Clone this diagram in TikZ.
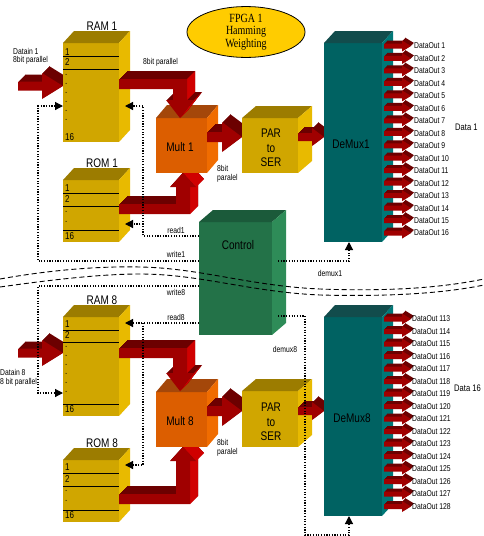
\documentclass[tikz,border=0pt]{standalone}
\usepackage{fontspec}
\setmainfont{Liberation Sans}[FakeStretch=0.8]
\newfontfamily\serifst{Liberation Serif}[FakeStretch=0.8]
\usetikzlibrary{shapes.geometric,arrows.meta,calc}
\definecolor{goldF}{HTML}{D0A600}
\definecolor{goldT}{HTML}{9C7C00}
\definecolor{goldS}{HTML}{E8BA00}
\definecolor{multF}{HTML}{DC5E00}
\definecolor{multT}{HTML}{A4470A}
\definecolor{multS}{HTML}{F06C00}
\definecolor{ctlF}{HTML}{237248}
\definecolor{ctlT}{HTML}{1B5A3A}
\definecolor{ctlS}{HTML}{2E8C58}
\definecolor{dmF}{HTML}{006262}
\definecolor{dmT}{HTML}{124C4C}
\definecolor{dmS}{HTML}{007878}
\definecolor{arrF}{HTML}{A00000}
\definecolor{arrT}{HTML}{6C0000}
\definecolor{arrS}{HTML}{D00000}
\definecolor{fpga}{HTML}{FFCC00}
\newcommand\lblf{\fontsize{8.5}{9.5}\selectfont}
\newcommand\bxf{\fontsize{12.5}{14.5}\selectfont}
\newcommand\numf{\fontsize{10}{11}\selectfont}
% top and side faces of a box node
\newcommand\cubeface[4]{%
 \fill[#4T] (#1.north west) -- ++(#2,-#3) -- ($(#1.north east)+(#2,-#3)$) -- (#1.north east) -- cycle;
 \fill[#4S] (#1.north east) -- ++(#2,-#3) -- ($(#1.south east)+(#2,-#3)$) -- (#1.south east) -- cycle;}
% straight 3D arrow pointing right: x0, xtip, yc, half shaft, head length, half head, depth
\newcommand\rarr[7]{%
 \foreach \k in {1,...,#7} {\fill[arrT, shift={(\k,-\k)}] (#1,#3-#4) -- (#2-#5,#3-#4) -- (#2-#5,#3-#6) -- (#2,#3) -- (#2-#5,#3+#6) -- (#2-#5,#3+#4) -- (#1,#3+#4) -- cycle;}
 \fill[arrF] (#1,#3-#4) -- (#2-#5,#3-#4) -- (#2-#5,#3-#6) -- (#2,#3) -- (#2-#5,#3+#6) -- (#2-#5,#3+#4) -- (#1,#3+#4) -- cycle;}
\newcommand\larrext[2]{\foreach \k in {1,...,#2} {\fill[arrT, shift={(\k,-\k)}] #1;}}
\begin{document}
\begin{tikzpicture}[x=1pt,y=-1pt,
  box/.style={inner sep=0pt, outer sep=0pt, anchor=north west, draw=none},
  numt/.style={anchor=west, inner sep=0pt, font=\numf},
  rline/.style={line width=1pt, black},
  lblw/.style={anchor=west, inner sep=0pt, font=\lblf, align=left},
  lblc/.style={inner sep=0pt, font=\lblf},
  boxt/.style={inner sep=0pt, font=\bxf, align=center},
  dotl/.style={black, line width=1.2pt, dash pattern=on 1.2pt off 1.5pt},
  tip/.style={-{Triangle[length=8pt,width=8pt]}},
  wave/.style={black, line width=0.9pt, dash pattern=on 5pt off 3pt}]
\useasboundingbox (0,0) rectangle (484,536);

% Datain arrows
\rarr{18}{63}{86}{4.5}{21}{13}{7}
\rarr{18}{63}{353}{4.5}{21}{13}{7}

% RAM / ROM boxes
\node[box, fill=goldF, minimum width=56, minimum height=99] (ram1) at (63,43) {};
\cubeface{ram1}{11}{12}{gold}
\node[box, fill=goldF, minimum width=56, minimum height=62] (rom1) at (63,180) {};
\cubeface{rom1}{11}{12}{gold}
\node[box, fill=goldF, minimum width=56, minimum height=99] (ram8) at (63,317) {};
\cubeface{ram8}{11}{12}{gold}
\node[box, fill=goldF, minimum width=56, minimum height=62] (rom8) at (63,460) {};
\cubeface{rom8}{11}{12}{gold}

% RAM / ROM contents
\foreach \yy in {56,69} \draw[rline] (63,\yy) -- (119,\yy);
\node[numt] at (65,52) {1}; \node[numt] at (65,62) {2}; \node[numt] at (65,137) {16};
\foreach \yy in {75,84,93,102,111,120} \node[numt] at (65,\yy) {.};
\foreach \yy in {193,206,230} \draw[rline] (63,\yy) -- (119,\yy);
\node[numt] at (65,188) {1}; \node[numt] at (65,199) {2}; \node[numt] at (65,236) {16};
\foreach \yy in {212,221.5} \node[numt] at (65,\yy) {.};
\foreach \yy in {330,342,404} \draw[rline] (63,\yy) -- (119,\yy);
\node[numt] at (65,324) {1}; \node[numt] at (65,335) {2}; \node[numt] at (65,409) {16};
\foreach \yy in {347,356,365,374,383,392} \node[numt] at (65,\yy) {.};
\foreach \yy in {473,486,510} \draw[rline] (63,\yy) -- (119,\yy);
\node[numt] at (65,467) {1}; \node[numt] at (65,479) {2}; \node[numt] at (65,515) {16};
\foreach \yy in {491,500.5} \node[numt] at (65,\yy) {.};

% ROM -> Mult arrows (behind Mult)
\def\pROone{(119,204)--(176,204)--(176,187)--(170,187)--(183,173)--(196,187)--(190,187)--(190,214)--(119,214)--cycle}
\larrext{\pROone}{8}
\fill[arrS] (190,214)--(190,187)--(198,179)--(198,206)--cycle;
\fill[arrS] (196,187)--(183,173)--(191,165)--(204,179)--cycle;
\fill[arrF] \pROone;
\def\pROeight{(119,494)--(176,494)--(176,461)--(170,461)--(183,447)--(196,461)--(190,461)--(190,504)--(119,504)--cycle}
\larrext{\pROeight}{8}
\fill[arrS] (190,504)--(190,461)--(198,453)--(198,496)--cycle;
\fill[arrS] (196,461)--(183,447)--(191,439)--(204,453)--cycle;
\fill[arrF] \pROeight;

% Mult boxes
\node[box, fill=multF, minimum width=51, minimum height=55] (mult1) at (156,118) {};
\cubeface{mult1}{11}{13}{mult}
\node[boxt] at (180,147) {Mult 1};
\node[box, fill=multF, minimum width=51, minimum height=55] (mult8) at (156,392) {};
\cubeface{mult8}{11}{13}{mult}
\node[boxt] at (180,421) {Mult 8};

% RAM -> Mult arrows (over Mult top)
\def\pRAone{(119,79)--(187,79)--(187,100)--(194,100)--(180,118)--(166,100)--(173,100)--(173,89)--(119,89)--cycle}
\larrext{\pRAone}{8}
\fill[arrS] (187,79)--(187,100)--(195,92)--(195,71)--cycle;
\fill[arrS] (194,100)--(180,118)--(188,110)--(202,92)--cycle;
\fill[arrF] \pRAone;
\def\pRAeight{(119,348)--(187,348)--(187,373)--(194,373)--(180,391)--(166,373)--(173,373)--(173,358)--(119,358)--cycle}
\larrext{\pRAeight}{8}
\fill[arrS] (187,348)--(187,373)--(195,365)--(195,340)--cycle;
\fill[arrS] (194,373)--(180,391)--(188,383)--(202,365)--cycle;
\fill[arrF] \pRAeight;

% Mult -> PAR arrows
\rarr{207}{242}{137}{5}{20}{15}{8}
\rarr{207}{242}{411}{5}{20}{15}{8}

% PAR boxes
\node[box, fill=goldF, minimum width=56, minimum height=55] (par1) at (242,118) {};
\cubeface{par1}{14}{12}{gold}
\node[boxt] at (271,148) {PAR\\to\\SER};
\node[box, fill=goldF, minimum width=56, minimum height=56] (par8) at (242,391) {};
\cubeface{par8}{14}{12}{gold}
\node[boxt] at (271,422) {PAR\\to\\SER};

% PAR -> DeMux arrows
\rarr{298}{324}{137}{4}{12}{9}{6}
\rarr{298}{324}{411}{4}{12}{9}{6}

% DeMux boxes
\node[box, fill=dmF, minimum width=58, minimum height=199] (dm1) at (324,43) {};
\cubeface{dm1}{11}{12}{dm}
\node[boxt] at (351,144) {DeMux1};
\node[box, fill=dmF, minimum width=58, minimum height=199] (dm8) at (324,317) {};
\cubeface{dm8}{11}{12}{dm}
\node[boxt] at (352,418) {DeMux8};

% outputs
\foreach \i [count=\n from 1] in {0,...,15} {
  \pgfmathsetmacro\yc{46+12.47*\i}
  \rarr{384}{411}{\yc}{2.5}{9}{5.5}{3}
  \node[lblw] at (414,\yc) {DataOut \n};
}
\foreach \i in {0,...,15} {
  \pgfmathsetmacro\yc{319+12.5*\i}
  \pgfmathtruncatemacro\nn{113+\i}
  \rarr{384}{411}{\yc}{2.5}{9}{5.5}{3}
  \node[lblw] at (412,\yc) {DataOut \nn};
}
\node[anchor=west, inner sep=0pt, font=\fontsize{9.5}{11}\selectfont] (d1) at (455,127) {Data 1};
\node[anchor=west, inner sep=0pt, font=\fontsize{9.5}{11}\selectfont] (d16) at (454,388) {Data 16};

% Control
\node[box, fill=ctlF, minimum width=73, minimum height=113] (ctrl) at (199,222) {};
\cubeface{ctrl}{14}{12}{ctl}
\node[boxt] at (238,245) {Control};

% wavy dashed separators
\draw[wave] (0,279) .. controls (50,270) and (100,266) .. (140,267) .. controls (200,268) and (250,286) .. (320,289) .. controls (400,292) and (450,286) .. (484,279);
\draw[wave] (0,287) .. controls (50,280) and (100,274) .. (140,274) .. controls (200,274) and (250,292) .. (320,295) .. controls (400,297) and (450,292) .. (484,285);

% FPGA ellipse
\node[ellipse, draw=black, line width=0.8pt, fill=fpga, minimum width=118, minimum height=47, inner sep=0pt,
      font=\serifst\fontsize{12.5}{12.5}\selectfont, align=center] (fpga) at (246,32) {FPGA 1\\Hamming\\Weighting};

% box titles
\node[boxt] at (102,26) {RAM 1};
\node[boxt] at (102,163) {ROM 1};
\node[boxt] at (102,300) {RAM 8};
\node[boxt] at (102,443) {ROM 8};

% control connectors
\coordinate (r1y) at (0,106);
\coordinate (w1c) at (38,261);
\coordinate (rd1) at (143,236);
\coordinate (ro1y) at (0,224);
\draw[dotl, tip] (ctrl.west |- w1c) -- (w1c) -- (w1c |- r1y) -- (ram1.west |- r1y);
\draw[dotl, tip] (ctrl.west |- rd1) -- (rd1) -- (rd1 |- r1y) -- ($(ram1.east |- r1y)+(6,0)$);
\draw[dotl, tip] (rd1 |- ro1y) -- ($(rom1.east |- ro1y)+(6,0)$);
\coordinate (w8c) at (38,286);
\coordinate (r8y) at (0,393);
\coordinate (rd8) at (143,323);
\coordinate (ro8y) at (0,465);
\draw[dotl, tip] (ctrl.west |- w8c) -- (w8c) -- (w8c |- r8y) -- (ram8.west |- r8y);
\draw[dotl, tip] (ctrl.west |- rd8) -- ($(ram8.east |- rd8)+(6,0)$);
\draw[dotl, tip] (rd8) -- (rd8 |- ro8y) -- ($(rom8.east |- ro8y)+(6,0)$);
\coordinate (dm1c) at (349,261);
\draw[dotl, tip] ($(ctrl.east |- dm1c)+(6,0)$) -- (dm1c) -- (dm1c |- dm1.south);
\coordinate (d8a) at (305,316);
\coordinate (d8b) at (305,535);
\coordinate (d8c) at (349,535);
\draw[dotl, tip] ($(ctrl.east |- d8a)+(6,0)$) -- (d8a) -- (d8b) -- (d8c) -- (d8c |- dm8.south);

% labels
\node[lblw] at (13,51) {Datain 1};
\node[lblw] at (13,60) {8bit parallel};
\node[lblw] at (0,372) {Datain 8};
\node[lblw] at (0,382) {8 bit parallel};
\node[lblw] at (143,62) {8bit parallel};
\node[lblw] at (217,168) {8bit};
\node[lblw] at (217,178) {paralel};
\node[lblw] at (217,442) {8bit};
\node[lblw] at (217,452) {paralel};
\node[lblc] at (176,230) {read1};
\node[lblc] at (176,254) {write1};
\node[lblc] at (176,292) {write8};
\node[lblc] at (176,317) {read8};
\node[lblc] at (330,273) {demux1};
\node[lblc] at (285,349) {demux8};
\end{tikzpicture}
\end{document}
